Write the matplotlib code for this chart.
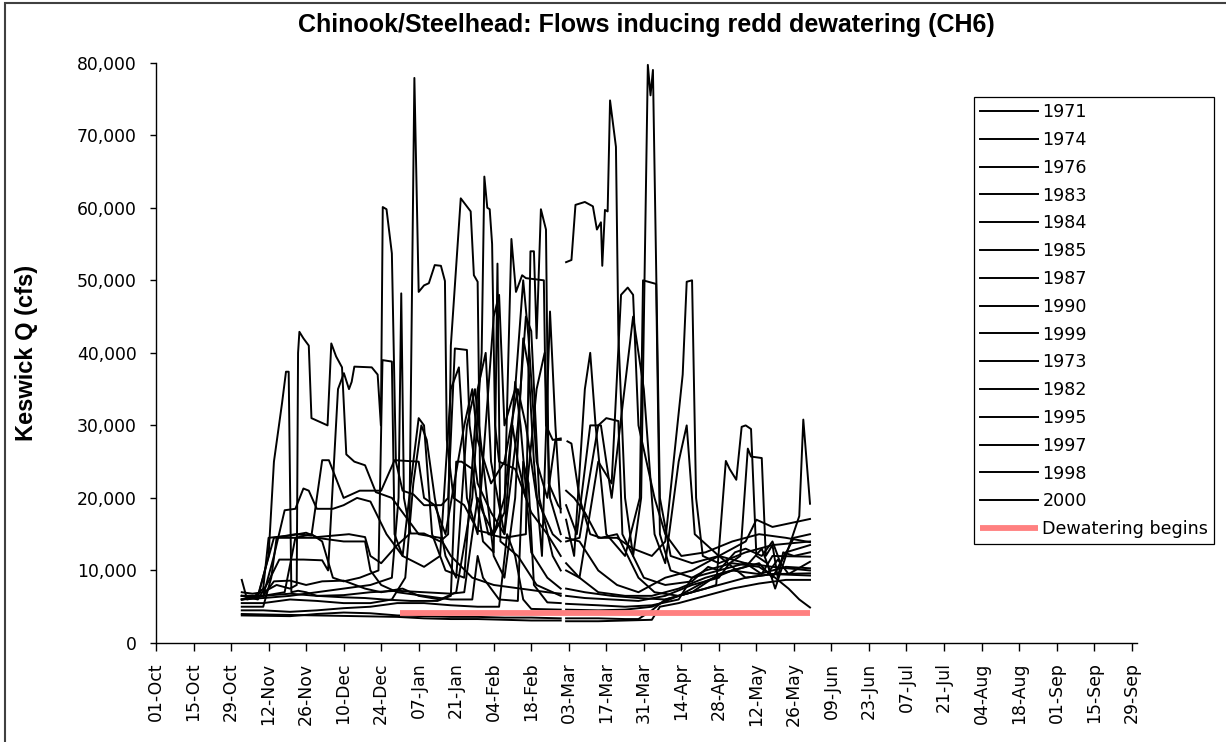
import numpy as np
import matplotlib.pyplot as plt
from matplotlib.patches import Rectangle
from matplotlib.ticker import FuncFormatter

# Keswick release (cfs), breakpoints as (days after 01-Oct, flow); None = missing day
q1971 = [(32, 6500), (38, 6300), (42, 12000), (44, 25000), (47, 33000), (48.5, 37400), (49.5, 37400),
         (50.5, 7000), (53, 7200), (56, 7000), (60, 6500), (70, 6300), (78, 6200), (85, 6000), (95, 5800),
         (105, 5800), (110, 6500), (112, 25000), (114, 25000), (118, 24000), (122, 14000), (126, 12500),
         (127.4, 52300), (128.5, 14000), (135, 12000), (142, 8000), (148, 7000), (151, 6500), (152, None),
         (153, 6500), (160, 6200), (170, 6000), (180, 5800), (190, 6500), (200, 8000), (210, 9000),
         (214, 11000), (218, 12000), (220.8, 26800), (222, 25700), (226, 25500), (227.5, 12000),
         (230, 13500), (232, 9000), (234, 12500), (238, 12000), (244, 12500)]
q1974 = [(32, 7000), (36, 6800), (40, 7000), (45, 8000), (50, 7500), (52.5, 8000), (53, 40000),
         (53.5, 42900), (55, 42000), (57, 41000), (58, 31000), (61, 30500), (64, 30000), (65.4, 41300),
         (67.2, 39500), (69.4, 38000), (71, 26000), (74, 25000), (78, 24500), (82, 20800), (88, 20000),
         (92, 18000), (98, 15000), (106, 14500), (110, 12000), (118, 9000), (126, 8000), (136, 7500),
         (146, 7000), (151, 6800), (152, None), (153, 52500), (155, 52800), (156.5, 60400), (160, 60800),
         (163, 60200), (164.5, 57000), (166, 58000), (166.5, 52000), (167.5, 59700), (168.5, 59500),
         (169.4, 74800), (171.6, 68400), (172.5, 42500), (175, 20000), (178, 12000), (182, 9000),
         (190, 8000), (200, 8500), (206, 10500), (210, 10000), (216, 12500), (220, 13000), (226, 12000),
         (230, 14000), (233, 11000), (238, 14500), (244, 15000)]
q1976 = [(32, 4000), (45, 3900), (60, 3800), (75, 3700), (90, 3600), (100, 3400), (110, 3300),
         (120, 3300), (130, 3200), (140, 3100), (151, 3100), (152, None), (153, 3000), (165, 3000),
         (175, 3100), (185, 3200), (188, 5000), (195, 5500), (205, 6500), (215, 7500), (225, 8200),
         (235, 8700), (244, 8700)]
q1983 = [(32, 6000), (36, 6200), (40, 7500), (42, 14500), (50, 14800), (56, 15200), (60, 14600),
         (66, 14800), (72, 15000), (78, 14600), (80, 12000), (84, 11000), (90, 13500), (94.5, 15000),
         (96.4, 77900), (98, 48400), (100, 49300), (101.8, 49600), (104, 52100), (106.3, 52000),
         (107.8, 49900), (108.5, 28000), (111, 20000), (115, 19000), (120, 15500), (126, 15000),
         (130, 18000), (131.5, 40000), (132.6, 55700), (134.3, 48400), (136.6, 50700), (138, 50300),
         (144.7, 50000), (145.5, 30000), (148, 28000), (151, 28200), (152, None), (153.5, 27800),
         (155, 27500), (158, 20000), (162, 15000), (166, 14500), (172, 15000), (176, 12000), (180, 9000),
         (186, 7000), (195, 6500), (205, 7500), (209, 8000), (212.6, 25100), (214, 24000), (216.5, 22500),
         (218.5, 29800), (220, 30000), (222, 29500), (224, 12000), (228, 11000), (231, 7500),
         (235, 12000), (240, 17500), (241.5, 30800), (244, 19200)]
q1984 = [(32, 6500), (38, 6000), (42, 8500), (46, 11500), (55, 11500), (62, 11400), (64.2, 10000),
         (67.9, 35000), (70.1, 37200), (72, 35000), (73, 36000), (74, 38100), (80.5, 38000), (82.7, 37000),
         (83.9, 30000), (84.6, 60100), (86, 59800), (88, 53700), (89.5, 25000), (92, 21000), (96, 20500),
         (100, 19000), (106.5, 19000), (109, 20000), (111.5, 40600), (116, 40400), (117, 30000),
         (120, 22000), (125, 18000), (130, 15000), (134, 36000), (136, 30000), (140, 12500), (146, 9000),
         (151, 7500), (152, None), (153, 7500), (160, 7000), (170, 6500), (180, 6200), (190, 6000),
         (200, 7000), (210, 9500), (220, 10500), (226, 13000), (229, 10000), (232, 11500), (236, 9500),
         (244, 11200)]
q1985 = [(32, 5000), (40, 5000), (43, 9000), (45, 14500), (60, 14500), (70, 14000), (78, 14000),
         (80, 10000), (84, 8000), (90, 7000), (100, 6500), (110, 6000), (118, 6000), (120, 12000),
         (122, 9000), (128, 6000), (135, 5800), (137, 25000), (139, 22000), (141, 8000), (146, 5600),
         (151, 5500), (152, None), (153, 5400), (165, 5200), (175, 5000), (185, 5200), (195, 6000),
         (200, 9000), (205, 10000), (215, 11000), (225, 10500), (231, 9000), (236, 7500), (240, 6000),
         (244, 4900)]
q1987 = [(32, 3800), (50, 3700), (60, 4000), (70, 4200), (80, 4100), (90, 3800), (100, 3700),
         (110, 3600), (120, 3600), (130, 3500), (140, 3500), (151, 3400), (152, None), (153, 3400),
         (165, 3400), (175, 3300), (180, 3300), (185, 4500), (190, 6000), (200, 7000), (210, 8000),
         (220, 9000), (230, 9500), (244, 9600)]
q1990 = [(32, 4500), (40, 4500), (50, 4300), (60, 4500), (70, 4800), (80, 5000), (90, 5500),
         (100, 5500), (110, 5200), (120, 5000), (128, 5000), (131, 15000), (134, 12000), (137, 6000),
         (140, 4700), (151, 4600), (152, None), (153, 4600), (165, 4500), (175, 4600), (185, 5000),
         (195, 6500), (205, 8500), (215, 10000), (225, 11000), (230, 9000), (235, 12500), (244, 13500)]
q1999 = [(32, 6000), (40, 6200), (50, 6500), (60, 7000), (70, 7500), (80, 8000), (88, 9000),
         (90.5, 20000), (91.5, 48200), (92.5, 20000), (95, 15100), (100, 15100), (106, 14000),
         (109, 15000), (110, 41000), (113.7, 61300), (117.4, 59500), (118.6, 50700), (120, 49800),
         (121, 20000), (124, 15000), (130, 14500), (138, 15000), (139.7, 54000), (141, 54000),
         (142, 42000), (143.6, 59800), (145.5, 57000), (146.5, 22000), (150, 19000), (151, 18500),
         (152, None), (153, 21000), (156, 20000), (160, 18000), (165, 14500), (172, 14500), (178, 13000),
         (185, 12000), (190, 14000), (196.5, 37000), (198, 49800), (200, 50000), (201.5, 20000),
         (204, 12000), (210, 11000), (220, 12500), (230, 13500), (244, 14000)]
q1973 = [(32, 8700), (34, 6000), (40, 6500), (44, 8500), (50, 8600), (56, 8000), (62, 8500),
         (70, 8600), (78, 7500), (84, 7000), (92, 7500), (98, 6500), (106, 6000), (112, 7000),
         (118, 20000), (121.5, 40000), (122.5, 64300), (123.6, 60000), (124.5, 59800), (125.4, 55000),
         (126.5, 30000), (128, 25000), (134, 24000), (140, 18000), (146, 15000), (151, 12000),
         (152, None), (153, 11000), (158, 9000), (165, 7000), (175, 6500), (185, 6500), (195, 7500),
         (205, 9000), (215, 10000), (225, 9500), (235, 10500), (244, 10300)]
q1982 = [(32, 6000), (38, 6500), (44, 14500), (52, 15000), (58, 14800), (62, 25200), (64.5, 25200),
         (70, 20000), (76, 21000), (84, 21000), (89, 25200), (98, 25000), (100, 20000), (104, 19000),
         (108, 15000), (115, 30000), (118, 35000), (120, 28000), (125, 22000), (130, 25000),
         (135, 35000), (138, 30000), (142, 20000), (148, 15000), (151, 14000), (152, None),
         (153, 14000), (158, 14500), (165, 30000), (168, 31000), (172.5, 30600), (174, 15000),
         (178, 12000), (181, 20000), (183.5, 79700), (184.5, 75500), (185.4, 79000), (188, 20000),
         (192, 12000), (200, 11000), (210, 12000), (220, 14000), (224, 17000), (230, 16000), (244, 17100)]
q1995 = [(32, 5500), (40, 5500), (50, 6000), (60, 5800), (70, 5500), (80, 5500), (88, 6000),
         (93, 9000), (96, 22000), (99, 30000), (101, 28000), (104, 20000), (108, 12000), (112, 9000),
         (116, 30000), (119, 35000), (122, 25000), (126, 12000), (130, 9000), (134, 20000),
         (137, 42000), (139, 38000), (141, 25000), (144, 12000), (147, 45700), (149, 30000),
         (151, 18000), (152, None), (153, 17000), (156, 12000), (160, 35000), (162, 40000),
         (164, 30000), (168, 15000), (175, 12000), (180.5, 20000), (181.7, 50000), (186.6, 49500),
         (188, 15000), (192, 10000), (200, 9000), (210, 10000), (220, 11000), (226, 9500), (230, 12000),
         (244, 11900)]
q1997 = [(32, 6500), (40, 6500), (48, 7000), (52, 14500), (58, 15000), (62, 14000), (66, 9000),
         (70, 8500), (76, 9000), (83, 10000), (84.5, 39000), (88, 38800), (89, 15000), (92, 12000),
         (96, 25000), (98, 31000), (100, 30000), (103, 15000), (108, 10000), (115, 9000), (120, 35000),
         (123, 40000), (125, 25000), (130, 15000), (135, 30000), (138, 45000), (140, 43000),
         (143, 20000), (148, 12000), (151, 10000), (152, None), (153, 10000), (158, 9000), (165, 25000),
         (170, 22000), (173.5, 48000), (176, 49000), (178, 48000), (180, 30000), (183, 25000),
         (186, 20000), (190, 15000), (196, 12000), (205, 12500), (215, 14000), (225, 15000),
         (235, 14500), (244, 13900)]
q1998 = [(32, 6000), (40, 6500), (44, 12000), (48, 18300), (52, 18500), (55, 21300), (57, 21000),
         (60, 18500), (66, 18500), (70, 19000), (75, 20000), (80, 19500), (86, 15000), (92, 12000),
         (100, 10500), (106, 12000), (110, 35000), (113, 38000), (116, 20000), (120, 15000),
         (126, 45000), (128, 48000), (130, 30000), (134, 35000), (137, 50000), (139, 42000),
         (142, 25000), (146, 20000), (149, 28000), (151, 28000), (152, None), (153, 19000),
         (157, 15000), (162, 30000), (166, 30000), (170, 20000), (178, 45000), (182, 35000),
         (186, 15000), (190, 11000), (195, 25000), (198, 30000), (201, 15000), (210, 12000),
         (220, 11000), (230, 10500), (244, 10000)]
q2000 = [(32, 6500), (40, 6500), (50, 6800), (60, 6500), (70, 6600), (80, 7000), (90, 7200),
         (100, 7000), (110, 6800), (115, 7000), (118, 15000), (120, 20000), (122, 18000), (126, 15000),
         (130, 20000), (133, 30000), (135, 25000), (138, 20000), (142, 35000), (145, 40000),
         (147, 20000), (151, 15000), (152, None), (153, 14500), (158, 14000), (165, 10000),
         (172, 8000), (180, 7000), (190, 9000), (200, 10000), (210, 12000), (220, 9000), (230, 9500),
         (244, 9300)]

years = ['1971', '1974', '1976', '1983', '1984', '1985', '1987', '1990', '1999',
         '1973', '1982', '1995', '1997', '1998', '2000']
flows = [q1971, q1974, q1976, q1983, q1984, q1985, q1987, q1990, q1999,
         q1973, q1982, q1995, q1997, q1998, q2000]

# dewatering threshold
dewater_days = [91, 244]
dewater_cfs = [4200, 4200]

tick_days = list(range(0, 365, 14))
tick_labels = ['01-Oct', '15-Oct', '29-Oct', '12-Nov', '26-Nov', '10-Dec', '24-Dec', '07-Jan',
               '21-Jan', '04-Feb', '18-Feb', '03-Mar', '17-Mar', '31-Mar', '14-Apr', '28-Apr',
               '12-May', '26-May', '09-Jun', '23-Jun', '07-Jul', '21-Jul', '04-Aug', '18-Aug',
               '01-Sep', '15-Sep', '29-Sep']

W, H = 1226, 742
fig = plt.figure(figsize=(W / 100, H / 100), dpi=100)
ax = fig.add_axes([156 / W, 1 - 643 / H, 981 / W, (643 - 62.7) / H])

for yr, q in zip(years, flows):
    a = np.array(q, dtype=float)
    ax.plot(a[:, 0], a[:, 1], color='black', lw=1.4, label=yr)
ax.plot(dewater_days, dewater_cfs, color='#ff8080', lw=4.2, solid_capstyle='butt',
        label='Dewatering begins')

ax.set_xlim(0, 366)
ax.set_ylim(0, 80000)
ax.set_yticks(range(0, 80001, 10000))
ax.yaxis.set_major_formatter(FuncFormatter(lambda v, p: f'{v:,.0f}'))
ax.set_xticks(tick_days)
ax.set_xticklabels(tick_labels, rotation=90)
ax.tick_params(axis='y', direction='out', length=4, width=1, pad=10, labelsize=12.4)
ax.tick_params(axis='x', direction='out', length=6, width=1, pad=8, labelsize=12.4)
for s in ['top', 'right']:
    ax.spines[s].set_visible(False)
for s in ['left', 'bottom']:
    ax.spines[s].set_linewidth(1.0)

leg = ax.legend(loc='upper left', bbox_to_anchor=(974 / W, 1 - 97 / H),
                bbox_transform=fig.transFigure, borderaxespad=0, fontsize=12.6,
                handlelength=3.3, handletextpad=0.25, labelspacing=0.56, borderpad=0.35,
                fancybox=False, framealpha=1, edgecolor='black')
leg.get_frame().set_linewidth(0.9)

fig.text(646 / W, 1 - 25 / H, 'Chinook/Steelhead: Flows inducing redd dewatering (CH6)',
         ha='center', va='center', fontsize=18, fontweight='bold', family='Liberation Sans')
fig.text(27 / W, 1 - 353 / H, 'Keswick Q (cfs)', rotation=90, ha='center', va='center',
         fontsize=17, fontweight='bold', family='Liberation Sans')

# chart area border
fig.add_artist(Rectangle((5 / W, -0.05), 1.1, 1.05 - 3 / H, transform=fig.transFigure,
                         fill=False, edgecolor='#404040', lw=1.5))

fig.savefig('out.png', dpi=100)
